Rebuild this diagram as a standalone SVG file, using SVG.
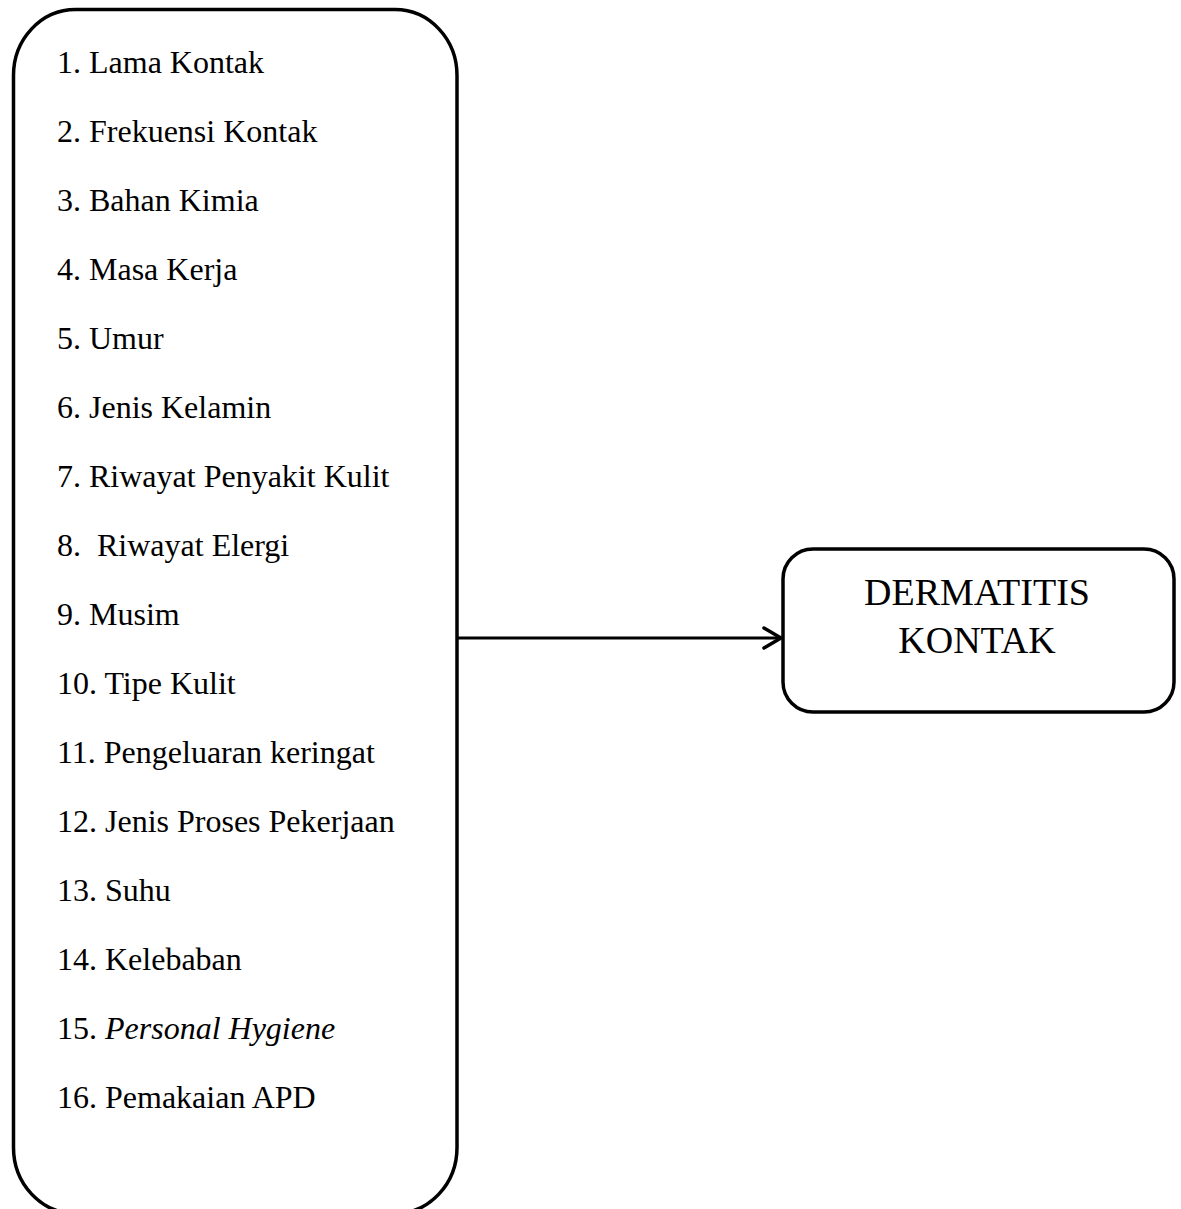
<svg xmlns="http://www.w3.org/2000/svg" width="1181" height="1209" viewBox="0 0 1181 1209">
<style>
.box{fill:#fff;stroke:#000;stroke-width:3.5}
.t{font-family:"Liberation Serif","Times New Roman",serif;font-size:32px;fill:#000;white-space:pre}
.big{font-family:"Liberation Serif","Times New Roman",serif;font-size:38px;fill:#000;text-anchor:middle}
.conn{fill:none;stroke:#000;stroke-width:3}
</style>
<defs>
<marker id="arr" markerWidth="24" markerHeight="26" refX="20" refY="13" orient="auto" markerUnits="userSpaceOnUse" viewBox="0 0 24 26">
<path d="M3,3 L20,13 L3,23" fill="none" stroke="#000" stroke-width="3.5" stroke-linecap="round" stroke-linejoin="round"/>
</marker>
</defs>
<rect width="1181" height="1209" fill="#fff"/>
<g id="factors">
<rect class="box" x="13.5" y="9.5" width="443.5" height="1204" rx="62" ry="66"/>
<text class="t" x="57" y="73">1. Lama Kontak</text>
<text class="t" x="57" y="142">2. Frekuensi Kontak</text>
<text class="t" x="57" y="211">3. Bahan Kimia</text>
<text class="t" x="57" y="280">4. Masa Kerja</text>
<text class="t" x="57" y="349">5. Umur</text>
<text class="t" x="57" y="418">6. Jenis Kelamin</text>
<text class="t" x="57" y="487">7. Riwayat Penyakit Kulit</text>
<text class="t" x="57" y="556">8.  Riwayat Elergi</text>
<text class="t" x="57" y="625">9. Musim</text>
<text class="t" x="57" y="694">10. Tipe Kulit</text>
<text class="t" x="57" y="763">11. Pengeluaran keringat</text>
<text class="t" x="57" y="832">12. Jenis Proses Pekerjaan</text>
<text class="t" x="57" y="901">13. Suhu</text>
<text class="t" x="57" y="970">14. Kelebaban</text>
<text class="t" x="57" y="1039">15. <tspan font-style="italic">Personal Hygiene</tspan></text>
<text class="t" x="57" y="1108">16. Pemakaian APD</text>
</g>
<g id="outcome">
<rect class="box" x="783" y="549" width="391" height="163" rx="30" ry="30"/>
<text class="big" x="977" y="605">DERMATITIS</text>
<text class="big" x="977" y="653">KONTAK</text>
</g>
<g id="connectors">
<line class="conn" x1="458" y1="638" x2="781" y2="638" marker-end="url(#arr)"/>
</g>
</svg>
